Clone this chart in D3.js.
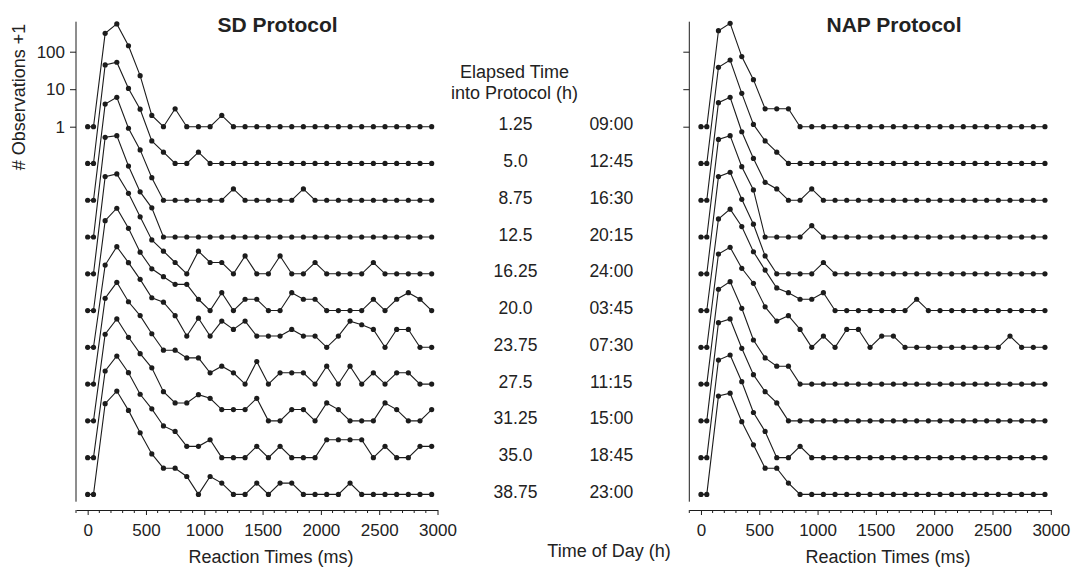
<!DOCTYPE html>
<html>
<head>
<meta charset="utf-8">
<script src="https://cdn.jsdelivr.net/npm/d3@7"></script>
<style>
  html, body { margin: 0; padding: 0; background: #ffffff; }
  svg { display: block; }
  text { font-family: "Liberation Sans", Arial, Helvetica, sans-serif; fill: #222; }
</style>
</head>
<body>
<svg id="chart" width="1073" height="569"></svg>
<script>
// ---------------- data ----------------
const rtBins = [0, 50, 150, 250, 350, 450, 550, 650, 750, 850, 950, 1050, 1150, 1250, 1350, 1450,
  1550, 1650, 1750, 1850, 1950, 2050, 2150, 2250, 2350, 2450, 2550, 2650, 2750, 2850, 2950];

const elapsedLabels = ["1.25", "5.0", "8.75", "12.5", "16.25", "20.0", "23.75", "27.5", "31.25", "35.0", "38.75"];
const timeOfDayLabels = ["09:00", "12:45", "16:30", "20:15", "24:00", "03:45", "07:30", "11:15", "15:00", "18:45", "23:00"];

const xTickLabels = [0, 500, 1000, 1500, 2000, 2500, 3000];
const yTickLabels = [1, 10, 100];

// # observations + 1, one row per session, SD protocol
const sdCounts = [
  [1,1,309,550,144,23,2,1,3,1,1,1,2,1,1,1,1,1,1,1,1,1,1,1,1,1,1,1,1,1,1],
  [1,1,424,500,100,28,4,2,1,1,2,1,1,1,1,1,1,1,1,1,1,1,1,1,1,1,1,1,1,1,1],
  [1,1,367,555,83,22,4,1,1,1,1,1,1,2,1,1,1,1,1,2,1,1,1,1,1,1,1,1,1,1,1],
  [1,1,456,505,78,16,6,1,1,1,1,1,1,1,1,1,1,1,1,1,1,1,1,1,1,1,1,1,1,1,1],
  [1,1,390,459,140,33,8,4,2,1,4,2,2,1,3,1,1,3,1,1,2,1,1,1,1,2,1,1,1,1,1],
  [1,1,250,535,156,36,13,8,5,5,2,1,3,1,2,2,1,1,3,2,2,1,1,1,1,2,1,2,3,2,1],
  [1,1,156,482,181,65,21,16,7,2,6,2,5,3,5,2,2,2,3,2,2,1,2,5,4,3,1,3,3,1,1],
  [1,1,194,517,157,67,22,8,8,5,5,2,3,2,1,4,1,2,2,2,1,3,1,3,1,2,1,2,2,1,1],
  [1,1,204,522,169,62,26,6,3,3,5,4,2,2,2,4,1,1,2,2,1,3,2,1,1,1,3,2,1,1,2],
  [1,1,204,512,184,49,20,7,5,2,2,3,1,1,1,2,1,2,1,1,1,3,3,3,3,1,2,1,1,2,2],
  [1,1,263,570,174,44,12,5,5,3,1,3,2,1,1,2,1,2,2,1,1,1,1,2,1,1,1,1,1,1,1]
];

// # observations + 1, one row per session, NAP protocol
const napCounts = [
  [1,1,363,572,74,18,3,3,3,1,1,1,1,1,1,1,1,1,1,1,1,1,1,1,1,1,1,1,1,1,1],
  [1,1,367,575,74,11,4,2,1,1,1,1,1,1,1,1,1,1,1,1,1,1,1,1,1,1,1,1,1,1,1],
  [1,1,400,555,67,13,3,2,1,1,2,1,1,1,1,1,1,1,1,1,1,1,1,1,1,1,1,1,1,1,1],
  [1,1,401,505,75,18,1,1,1,1,2,1,1,1,1,1,1,1,1,1,1,1,1,1,1,1,1,1,1,1,1],
  [1,1,390,510,97,21,3,1,1,1,1,2,1,1,1,1,1,1,1,1,1,1,1,1,1,1,1,1,1,1,1],
  [1,1,277,505,174,37,12,4,3,2,2,3,1,1,1,1,1,1,1,2,1,1,1,1,1,1,1,1,1,1,1],
  [1,1,308,465,128,51,12,5,7,3,1,2,1,3,3,1,2,2,1,1,1,1,1,1,1,1,1,2,1,1,1],
  [1,1,338,540,105,15,5,3,3,1,1,1,1,1,1,1,1,1,1,1,1,1,1,1,1,1,1,1,1,1,1],
  [1,1,415,522,86,17,6,3,1,1,1,1,1,1,1,1,1,1,1,1,1,1,1,1,1,1,1,1,1,1,1],
  [1,1,400,545,106,16,5,1,1,2,1,1,1,1,1,1,1,1,1,1,1,1,1,1,1,1,1,1,1,1,1],
  [1,1,420,500,87,21,5,5,2,1,1,1,1,1,1,1,1,1,1,1,1,1,1,1,1,1,1,1,1,1,1]
];

// ---------------- layout ----------------
const svg = d3.select("#chart");
const ink = "#1c1c1c";

const rowScale = d3.scaleLinear().domain([0, 10]).range([126.7, 494.4]);
const yLog = d3.scaleLog().domain([1, 1000]).range([0, -112.5]);

const panels = [
  { title: "SD Protocol", data: sdCounts, x: d3.scaleLinear().domain([-100, 3000]).range([76, 437.5]), titleX: 277.5, labelX: 271 },
  { title: "NAP Protocol", data: napCounts, x: d3.scaleLinear().domain([-100, 3000]).range([689.3, 1050.8]), titleX: 894, labelX: 888 }
];

panels.forEach((p, pi) => {
  const g = svg.append("g");
  const x = p.x;
  const axisX = x.range()[0];

  // vertical y axis line
  g.append("line")
    .attr("x1", axisX).attr("x2", axisX)
    .attr("y1", 21.7).attr("y2", 501.7)
    .attr("stroke", ink).attr("stroke-width", 1);

  // y ticks (top row only)
  const yAxis = d3.axisLeft(yLog).tickValues(yTickLabels).tickSize(6).tickPadding(5)
    .tickFormat(pi === 0 ? d3.format("d") : () => "");
  const ya = g.append("g").attr("transform", `translate(${axisX},${rowScale(0)})`).call(yAxis);
  ya.select(".domain").remove();
  ya.selectAll(".tick line").attr("stroke", ink);
  ya.selectAll(".tick text").attr("font-size", 17).attr("fill", "#222")
    .attr("font-family", "Liberation Sans, Arial, sans-serif");

  // x axis
  const xAxis = d3.axisBottom(x).tickValues(xTickLabels).tickSize(5).tickPadding(9).tickSizeOuter(0)
    .tickFormat(d3.format("d"));
  const xa = g.append("g").attr("transform", "translate(0,510)").call(xAxis);
  xa.select(".domain").attr("stroke", ink);
  xa.selectAll(".tick line").attr("stroke", ink);
  xa.selectAll(".tick text").attr("font-size", 17).attr("fill", "#222")
    .attr("font-family", "Liberation Sans, Arial, sans-serif");
  // minor ticks
  const minor = d3.range(-100, 3001, 100).filter(v => v % 500 !== 0);
  g.append("g").selectAll("line").data(minor).join("line")
    .attr("x1", d => x(d)).attr("x2", d => x(d))
    .attr("y1", 510).attr("y2", 513)
    .attr("stroke", ink).attr("stroke-width", 1);

  // titles
  g.append("text").attr("x", p.titleX).attr("y", 32)
    .attr("text-anchor", "middle").attr("font-size", 21).attr("font-weight", "bold")
    .text(p.title);
  g.append("text").attr("x", p.labelX).attr("y", 563)
    .attr("text-anchor", "middle").attr("font-size", 18)
    .text("Reaction Times (ms)");

  // rows
  const line = d3.line();
  p.data.forEach((row, ri) => {
    const base = rowScale(ri);
    const pts = row.map((v, j) => [x(rtBins[j]), base + yLog(v)]);
    g.append("path").attr("d", line(pts))
      .attr("fill", "none").attr("stroke", ink).attr("stroke-width", 1.1);
    g.append("g").selectAll("circle").data(pts).join("circle")
      .attr("cx", d => d[0]).attr("cy", d => d[1]).attr("r", 2.6)
      .attr("fill", ink);
  });
});

// y label
svg.append("text")
  .attr("transform", "translate(25,97) rotate(-90)")
  .attr("text-anchor", "middle").attr("font-size", 18)
  .text("#  Observations +1");

// middle labels
svg.append("text").attr("x", 514.5).attr("y", 78.3).attr("text-anchor", "middle").attr("font-size", 18).text("Elapsed Time");
svg.append("text").attr("x", 514.5).attr("y", 99.3).attr("text-anchor", "middle").attr("font-size", 18).text("into Protocol (h)");

svg.append("g").selectAll("text").data(elapsedLabels).join("text")
  .attr("x", 515.5).attr("y", (d, i) => rowScale(i) + 3.5)
  .attr("text-anchor", "middle").attr("font-size", 17.5).text(d => d);
svg.append("g").selectAll("text").data(timeOfDayLabels).join("text")
  .attr("x", 611.3).attr("y", (d, i) => rowScale(i) + 3.5)
  .attr("text-anchor", "middle").attr("font-size", 17.5).text(d => d);

svg.append("text").attr("x", 609).attr("y", 556.5).attr("text-anchor", "middle").attr("font-size", 18).text("Time of Day (h)");
</script>
</body>
</html>
